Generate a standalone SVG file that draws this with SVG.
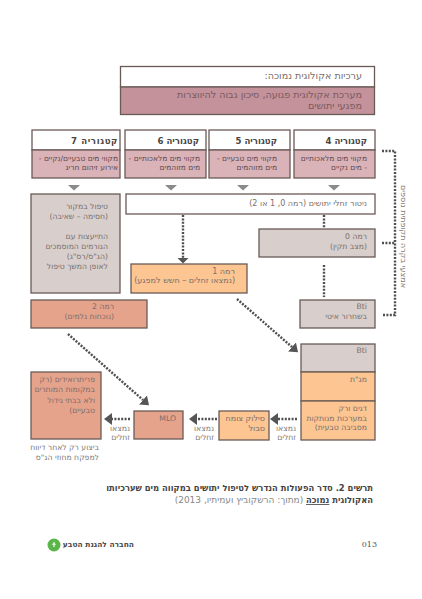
<svg xmlns="http://www.w3.org/2000/svg" width="422" height="599" viewBox="0 0 422 599">
<style>
text{font-family:"DejaVu Sans","Noto Sans",sans-serif;font-size:7.7px;fill:#7a6e6b;direction:rtl;text-anchor:start}
.box{stroke:#6a5a56;stroke-width:1.3}
.w{fill:#fff}.p{fill:#c4929a}.lp{fill:#dab3b9}.g{fill:#d8cfcc}.o{fill:#fcc591}.s{fill:#e6a38b}
.top{font-size:9.6px}
.tp{fill:#7a5a60}
.h{font-weight:bold;font-size:8.6px;fill:#4a4543}
.b{font-size:7.5px;fill:#5e4a4c}
.wide{font-size:8px}
.cap{font-size:9px;fill:#888}
.capb{font-size:8.4px;font-weight:bold;fill:#444}
.note{fill:#807a78}
.d{fill:none;stroke:#4f4f4f;stroke-width:2.4;stroke-dasharray:2 1.4}
.tri{fill:#8a8a8a}
.vert{font-size:8px}
</style>
<defs>
<marker id="ah" markerUnits="userSpaceOnUse" markerWidth="8" markerHeight="12" viewBox="0 0 8 12" refX="0" refY="6" orient="auto"><path d="M0 0L8 6L0 12Z" fill="#555"/></marker>
</defs>
<rect width="422" height="599" fill="#fff"/>

<g id="header">
<rect class="box w" x="120.500" y="66.500" width="254" height="20.500"/>
<rect class="box p" x="120.500" y="87" width="254" height="27.500"/>
<text class="top" x="362" y="79">ערכיות אקולוגית נמוכה:</text>
<text class="top tp" x="362" y="98">מערכת אקולוגית פגועה, סיכון גבוה להיווצרות</text>
<text class="top tp" x="362" y="108.500">מפגעי יתושים</text>
</g>

<g id="cat4">
<rect class="box w" x="294" y="130" width="81" height="20"/>
<rect class="box lp" x="294" y="150" width="81" height="28"/>
<text class="h" x="367" y="144">קטגוריה 4</text>
<text class="b" x="367" y="161">מקווי מים מלאכותיים</text>
<text class="b" x="367" y="170">- מים נקיים</text>
</g>
<g id="cat5">
<rect class="box w" x="209" y="130" width="81" height="20"/>
<rect class="box lp" x="209" y="150" width="81" height="28"/>
<text class="h" x="277" y="144">קטגוריה 5</text>
<text class="b" x="277" y="161">מקווי מים טבעיים -</text>
<text class="b" x="277" y="170">מים מזוהמים</text>
</g>
<g id="cat6">
<rect class="box w" x="125" y="130" width="81" height="20"/>
<rect class="box lp" x="125" y="150" width="81" height="28"/>
<text class="h" x="199" y="144">קטגוריה 6</text>
<text class="b" x="200" y="161">מקווי מים מלאכותיים -</text>
<text class="b" x="200" y="170">מים מזוהמים</text>
</g>
<g id="cat7">
<rect class="box w" x="32" y="130" width="88" height="20"/>
<rect class="box lp" x="32" y="150" width="88" height="28"/>
<text class="h" x="118" y="144" style="letter-spacing:.6px">קטגוריה 7</text>
<text class="b" x="118" y="161">מקווי מים טבעיים/נקיים -</text>
<text class="b" x="118" y="170">אירוע זיהום חריג</text>
</g>

<g id="triangles">
<path class="tri" d="M328 185h12l-6 5.500z"/>
<path class="tri" d="M237 185h12l-6 5.500z"/>
<path class="tri" d="M165 185h12l-6 5.500z"/>
<path class="tri" d="M68 185h12l-6 5.500z"/>
</g>

<g id="connectors">
<path class="d" d="M183 215V258"/>
<path d="M177.500 258h11l-5.500 5.500z" fill="#555"/>
<path class="d" d="M324 215V228"/>
<path class="d" d="M324 265V297"/>
<path class="d" d="M68 334L143 400" marker-end="url(#ah)"/>
<path class="d" d="M237 299L292 347" marker-end="url(#ah)"/>
<path class="d" d="M297 419H278" marker-end="url(#ah)"/>
<path class="d" d="M217 419H197" marker-end="url(#ah)"/>
<path class="d" d="M130 419H112" marker-end="url(#ah)"/>
<path class="d" d="M382 151H395V315H382"/>
<path class="d" d="M382 243H395"/>
</g>

<g id="source-treatment">
<rect class="box g" x="31" y="194" width="89" height="99"/>
<text x="108" y="209">טיפול במקור</text>
<text x="108" y="219">(חסימה – שאיבה)</text>
<text x="108" y="239">התייעצות עם</text>
<text x="108" y="249">הגורמים המוסמכים</text>
<text x="108" y="259">(הג"ס/רס"ג)</text>
<text x="108" y="269">לאופן המשך טיפול</text>
</g>
<g id="monitoring">
<rect class="box w" x="126" y="194" width="249" height="20"/>
<text class="wide" x="367" y="206">ניטור זחלי יתושים (רמה 0, 1 או 2)</text>
</g>
<g id="level0">
<rect class="box g" x="259" y="229" width="116" height="28"/>
<text x="367" y="239">רמה 0</text>
<text x="367" y="249">(מצב תקין)</text>
</g>
<g id="level1">
<rect class="box o" x="131" y="264" width="116" height="29"/>
<text class="wide" x="235" y="274">רמה 1</text>
<text class="wide" x="235" y="283">(נמצאו זחלים – חשש למפגע)</text>
</g>
<g id="level2">
<rect class="box s" x="31" y="300" width="116" height="28"/>
<text x="114" y="309">רמה 2</text>
<text x="114" y="319">(נוכחות גלמים)</text>
</g>
<g id="bti-slow">
<rect class="box g" x="300" y="300" width="75" height="28"/>
<text x="367" y="309">Bti</text>
<text x="367" y="319">בשחרור איטי</text>
</g>
<g id="stack">
<rect class="box g" x="301" y="344" width="74" height="28"/>
<rect class="box o" x="301" y="372" width="74" height="29"/>
<rect class="box o" x="301" y="401" width="74" height="39"/>
<text x="367" y="353">Bti</text>
<text x="367" y="382">מג"ת</text>
<text x="367" y="411">דגים ורק</text>
<text x="367" y="421">במערכות מנותקות</text>
<text x="367" y="430">מסביבה טבעית)</text>
</g>
<g id="vegetation">
<rect class="box o" x="219" y="411" width="50" height="29"/>
<text class="wide" x="265" y="421">סילוק צומח</text>
<text class="wide" x="265" y="431">סבול</text>
</g>
<g id="mlo">
<rect class="box s" x="134" y="411" width="49" height="28"/>
<text x="176" y="421">MLO</text>
</g>
<g id="pyrethroids">
<rect class="box s" x="31" y="372" width="70" height="67"/>
<text x="95" y="382">פריתרואידים (רק</text>
<text x="95" y="392">במקומות המותרים</text>
<text x="95" y="403">ולא בבתי גידול</text>
<text x="95" y="413">טבעיים)</text>
</g>

<g id="labels">
<text class="note" x="296" y="431">נמצאו</text>
<text class="note" x="296" y="440">זחלים</text>
<text class="note" x="214" y="431">נמצאו</text>
<text class="note" x="214" y="440">זחלים</text>
<text class="note" x="130" y="431">נמצאו</text>
<text class="note" x="130" y="440">זחלים</text>
<text class="note" x="99" y="450">ביצוע רק לאחר דיווח</text>
<text class="note" x="99" y="460">למפקח מחוזי הג"ס</text>
<text class="note vert" transform="translate(401 288) rotate(90)" x="0" y="0">אמצעי בקרה תקופתית נוספים</text>
</g>

<g id="caption">
<text class="capb" x="373" y="491">תרשים 2. סדר הפעולות הנדרש לטיפול יתושים במקווה מים שערכיותו</text>
<text class="cap" x="373" y="503"><tspan class="capb">האקולוגית </tspan><tspan class="capb" text-decoration="underline">נמוכה</tspan> (מתוך: הרשקוביץ ועמיתיו, 2013)</text>
</g>

<g id="footer">
<circle cx="54" cy="545" r="6.500" fill="#5cb54a"/>
<path d="M54 541.500l2 3.500h-1.300v2h-1.400v-2H52z" fill="#dff0d8"/>
<text x="134" y="547" style="font-size:7.500px;font-weight:bold;fill:#444">החברה להגנת הטבע</text>
<text x="377" y="547" style="font-family:'DejaVu Serif',serif;font-size:8px;fill:#555">013</text>
</g>
</svg>
